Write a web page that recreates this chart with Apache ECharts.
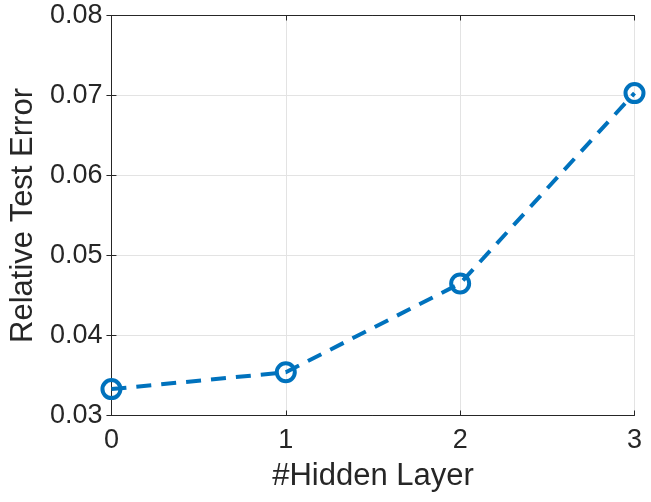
<!DOCTYPE html>
<html>
<head>
<meta charset="utf-8">
<script src="https://cdn.jsdelivr.net/npm/echarts@6/dist/echarts.min.js"></script>
<style>html,body{margin:0;padding:0;background:#fff}#c{width:651px;height:502px}</style>
</head>
<body>
<div id="c"></div>
<script>
const categories = [0, 1, 2, 3];
const errorValues = [0.0333, 0.0354, 0.0465, 0.0703];
const yTicks = [0.03, 0.04, 0.05, 0.06, 0.07, 0.08];
const xLabel = '#Hidden Layer';
const yLabel = 'Relative Test Error';

const font = '"Liberation Sans", Arial, Helvetica, sans-serif';
const axisColor = '#262626';
const chart = echarts.init(document.getElementById('c'), null, {renderer: 'canvas'});
const data = categories.map((c, i) => [c, errorValues[i]]);
const baseX = {
  type: 'value', min: 0, max: 3, interval: 1,
  axisLine: {show: true, lineStyle: {color: axisColor, width: 1}},
  axisTick: {show: true, inside: true, length: 5, lineStyle: {color: axisColor}},
};
const baseY = {
  type: 'value', min: yTicks[0], max: yTicks[yTicks.length - 1], interval: 0.01,
  axisLine: {show: true, lineStyle: {color: axisColor, width: 1}},
  axisTick: {show: true, inside: true, length: 5, lineStyle: {color: axisColor}},
};
chart.setOption({
  animation: false,
  grid: {left: 111, top: 15.5, right: 16.5, bottom: 86.5},
  xAxis: [
    Object.assign({}, baseX, {
      position: 'bottom',
      name: xLabel, nameLocation: 'middle', nameGap: 45,
      nameTextStyle: {fontFamily: font, fontSize: 31, color: axisColor},
      axisLabel: {fontFamily: font, fontSize: 27, color: axisColor, margin: 12},
      splitLine: {show: true, lineStyle: {color: '#e3e3e3', width: 1}}
    }),
    Object.assign({}, baseX, {
      position: 'top', axisLabel: {show: false}, splitLine: {show: false}
    })
  ],
  yAxis: [
    Object.assign({}, baseY, {
      position: 'left',
      name: yLabel, nameLocation: 'middle', nameGap: 71,
      nameTextStyle: {fontFamily: font, fontSize: 31, color: axisColor},
      axisLabel: {fontFamily: font, fontSize: 27, color: axisColor, margin: 9,
        formatter: v => v.toFixed(2)},
      splitLine: {show: true, lineStyle: {color: '#e3e3e3', width: 1}}
    }),
    Object.assign({}, baseY, {
      position: 'right', axisLabel: {show: false}, splitLine: {show: false}
    })
  ],
  series: [{
    type: 'line',
    data: data,
    xAxisIndex: 0, yAxisIndex: 0,
    symbol: 'circle',
    symbolSize: 18,
    showSymbol: true,
    clip: false,
    itemStyle: {color: 'rgba(255,255,255,0)', borderColor: '#0072BD', borderWidth: 4, opacity: 1},
    lineStyle: {color: '#0072BD', width: 4, type: [15, 10]},
    emphasis: {disabled: true}
  }]
});
</script>
</body>
</html>
